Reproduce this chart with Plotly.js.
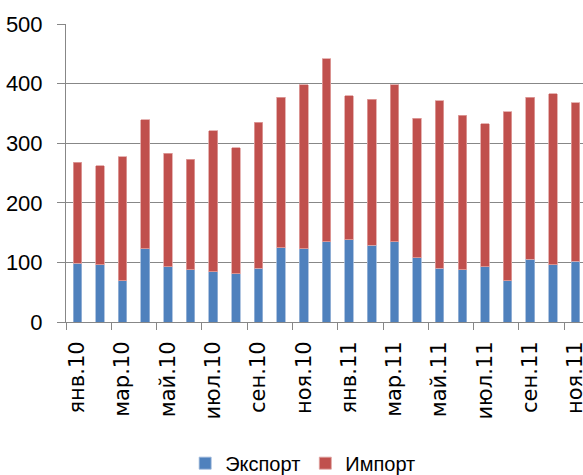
<!DOCTYPE html>
<html>
<head>
<meta charset="utf-8">
<script src="https://cdn.plot.ly/plotly-3.0.1.min.js"></script>
<style>html,body{margin:0;padding:0;background:#fff;}#chart{width:583px;height:475px;}</style>
</head>
<body>
<div id="chart"></div>
<script>
const months = ["янв.10","фев.10","мар.10","апр.10","май.10","июн.10","июл.10","авг.10","сен.10","окт.10","ноя.10","дек.10",
                "янв.11","фев.11","мар.11","апр.11","май.11","июн.11","июл.11","авг.11","сен.11","окт.11","ноя.11"];
const exportVals = [99,96,69,123,93,88,84,81,90,125,123,135,138,129,135,108,90,88,93,69,105,96,102];
const importVals = [169,166,208,216,190,185,237,211,245,252,275,307,242,245,263,234,281,259,240,284,272,287,266];
const seriesNames = ["Экспорт","Импорт"];

const traces = [
  {type:'bar', name:seriesNames[0], x:months, y:exportVals,
   marker:{color:'#4F81BD', line:{color:'#9DB8DA', width:0.8}}},
  {type:'bar', name:seriesNames[1], x:months, y:importVals,
   marker:{color:'#C0504D', line:{color:'#E0A3A1', width:0.8}}}
];

const layout = {
  width:583, height:475,
  margin:{l:66, r:0, t:24, b:153, pad:0},
  barmode:'stack', bargap:0.62,
  paper_bgcolor:'#fff', plot_bgcolor:'#fff',
  showlegend:true,
  legend:{orientation:'h', xref:'container', x:0.52, xanchor:'center', yref:'container', y:0.025, yanchor:'middle',
          font:{family:'Liberation Sans, Arial, sans-serif', size:20, color:'#000'}, itemwidth:30, traceorder:'normal'},
  xaxis:{type:'category', range:[-0.5,22.33], dtick:2, tickangle:-90, tickson:'boundaries',
         ticks:'outside', ticklen:7, tickcolor:'#878787', tickwidth:1,
         showline:true, linecolor:'#878787', linewidth:1, showgrid:false,
         ticklabelstandoff:10,
         tickfont:{family:'DejaVu Sans, sans-serif', size:21, color:'#000'}},
  yaxis:{range:[0,500], dtick:100, ticks:'outside', ticklen:8, tickcolor:'#878787', tickwidth:1,
         showline:true, linecolor:'#878787', linewidth:1,
         showgrid:true, gridcolor:'#878787', gridwidth:1, zeroline:false,
         ticklabelstandoff:10,
         tickfont:{family:'Liberation Sans, Arial, sans-serif', size:22, color:'#000'}}
};

Plotly.newPlot('chart', traces, layout, {staticPlot:true, displayModeBar:false});
</script>
</body>
</html>
